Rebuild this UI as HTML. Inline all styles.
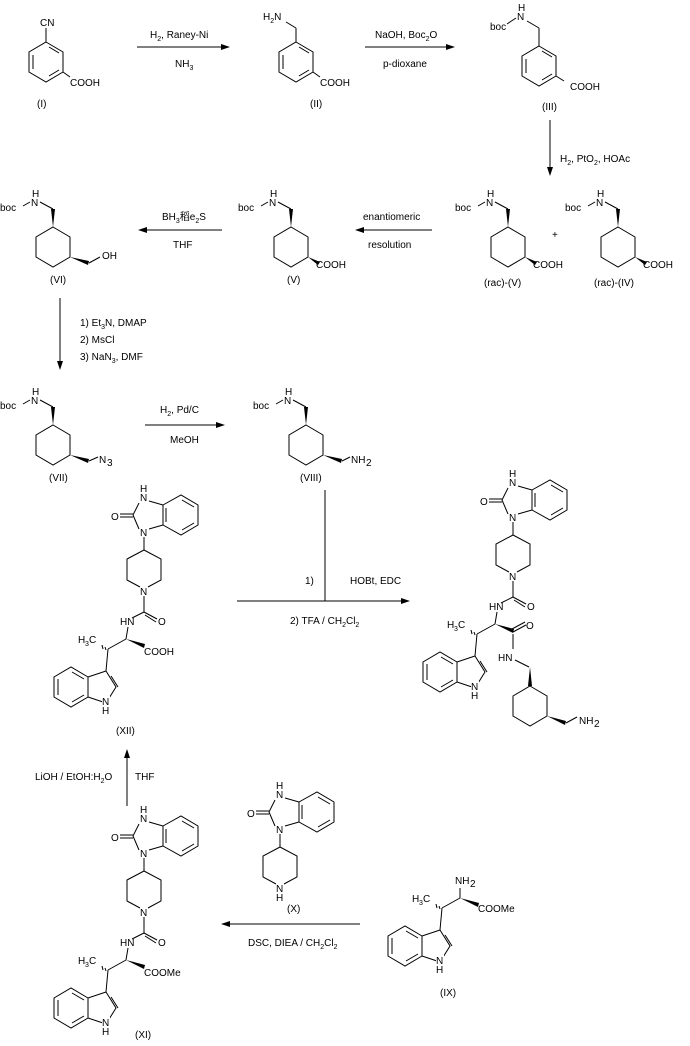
<!DOCTYPE html>
<html><head><meta charset="utf-8"><style>
body{margin:0;background:#fff}
svg{display:block}
text{font-family:"Liberation Sans",Arial,"Noto Sans CJK SC",sans-serif;font-size:10px;fill:#000}
line,polyline,polygon.r{stroke:#000;stroke-width:1;fill:none}
</style></head><body>
<svg width="690" height="1046" viewBox="0 0 690 1046" xmlns="http://www.w3.org/2000/svg">
<defs>
<g id="benz">
<polygon class="r" points="0,-20 17,-10 17,10 0,20 -17,10 -17,-10"/>
<line x1="3" y1="-15" x2="13" y2="-9"/><line x1="13" y1="8" x2="3" y2="14"/><line x1="-13" y1="-7" x2="-13" y2="7"/>
</g>
<g id="cyc">
<polygon class="r" points="0,-20 17,-10 17,10 0,20 -17,10 -17,-10"/>
<polygon points="0,-20 -2,-38 2,-38" fill="#000"/>
<line x1="0" y1="-38" x2="-13" y2="-45"/>
<text x="-22" y="-41">N</text><text x="-21" y="-50">H</text>
<line x1="-23" y1="-45" x2="-30" y2="-41"/>
<text x="-53" y="-36">boc</text>
</g>
<g id="bim">
<line x1="0" y1="-41" x2="0" y2="-54"/>
<text x="-4" y="-55">N</text>
<text x="-4" y="-90">N</text><text x="-4" y="-99">H</text>
<line x1="-5" y1="-62" x2="-11" y2="-76"/><line x1="-11" y1="-76" x2="-5" y2="-88"/>
<line x1="-11" y1="-77" x2="-24" y2="-77"/><line x1="-11" y1="-74" x2="-24" y2="-74"/>
<text x="-33" y="-71">O</text>
<line x1="5" y1="-62" x2="19" y2="-66"/><line x1="5" y1="-90" x2="19" y2="-86"/>
<polygon class="r" points="19,-86 37,-96 54,-86 54,-66 37,-56 19,-66"/>
<line x1="22" y1="-83" x2="22" y2="-69"/><line x1="38" y1="-91" x2="50" y2="-84"/><line x1="50" y1="-68" x2="38" y2="-61"/>
<polyline points="-4,-4 -17,-11 -17,-32 0,-41 17,-32 17,-11 4,-4"/>
</g>
<g id="trp">
<line x1="-18" y1="48" x2="-36" y2="58"/>
<g stroke="#000"><line x1="-39" y1="56" x2="-38" y2="59"/><line x1="-42" y1="54" x2="-41" y2="58"/></g>
<text x="-66" y="52">H</text><text x="-59" y="55" style="font-size:7px">3</text><text x="-55" y="52">C</text>
<line x1="-36" y1="58" x2="-38" y2="80"/>
<polygon class="r" points="-38,80 -28,96 -38,112 -56,106 -56,86"/>
<line x1="-33" y1="85" x2="-26" y2="96" />
<polygon class="r" points="-56,86 -73,76 -90,86 -90,106 -73,116 -56,106"/>
<line x1="-72" y1="81" x2="-60" y2="88"/><line x1="-86" y1="88" x2="-86" y2="104"/><line x1="-72" y1="111" x2="-60" y2="104"/>
<rect x="-42" y="105" width="8" height="9" fill="#fff"/>
<text x="-42" y="114">N</text><text x="-42" y="123">H</text>
</g>
<g id="core">
<text x="-4" y="4">N</text>
<use href="#bim"/>
<line x1="0" y1="5" x2="0" y2="21"/>
<line x1="0" y1="21" x2="13" y2="28"/><line x1="1" y1="24" x2="12" y2="31"/>
<text x="14" y="34">O</text>
<line x1="0" y1="21" x2="-12" y2="27"/>
<text x="-24" y="34">HN</text>
<line x1="-16" y1="36" x2="-18" y2="48"/>
<use href="#trp"/>
</g>
</defs>

<use href="#benz" x="46" y="62"/>
<line x1="46" y1="42" x2="46" y2="28"/><text x="40" y="26">CN</text>
<line x1="63" y1="72" x2="70" y2="77"/><text x="70" y="86">COOH</text>
<text x="37" y="107">(I)</text>
<line x1="137" y1="47" x2="224" y2="47"/><polygon points="230,47 221,44 221,50"/>
<text x="150" y="38">H<tspan font-size="7" dy="3">2</tspan><tspan dy="-3">, Raney-Ni</tspan></text>
<text x="175" y="67">NH<tspan font-size="7" dy="3">3</tspan></text>
<use href="#benz" x="296" y="62"/>
<line x1="296" y1="42" x2="296" y2="28"/><line x1="296" y1="28" x2="286" y2="22"/>
<text x="263" y="20">H<tspan font-size="7" dy="3">2</tspan><tspan dy="-3">N</tspan></text>
<line x1="313" y1="72" x2="320" y2="77"/><text x="320" y="86">COOH</text>
<text x="310" y="107">(II)</text>
<line x1="365" y1="47" x2="449" y2="47"/><polygon points="455,47 446,44 446,50"/>
<text x="375" y="38">NaOH, Boc<tspan font-size="7" dy="3">2</tspan><tspan dy="-3">O</tspan></text>
<text x="383" y="67">p-dioxane</text>
<use href="#benz" x="539" y="66"/>
<line x1="539" y1="46" x2="539" y2="28"/><line x1="539" y1="28" x2="527" y2="21"/>
<text x="517" y="20">N</text><text x="518" y="11">H</text>
<line x1="516" y1="18" x2="507" y2="24"/><text x="490" y="30">boc</text>
<line x1="556" y1="76" x2="564" y2="81"/><text x="570" y="90">COOH</text>
<text x="542" y="110">(III)</text>
<line x1="550" y1="120" x2="550" y2="170"/><polygon points="550,176 547,167 553,167"/>
<text x="560" y="162">H<tspan font-size="7" dy="3">2</tspan><tspan dy="-3">, PtO</tspan><tspan font-size="7" dy="3">2</tspan><tspan dy="-3">, HOAc</tspan></text>

<use href="#cyc" x="53" y="247"/>
<polygon points="70,257 88,265 89,261" fill="#000"/><line x1="89" y1="263" x2="100" y2="257"/><text x="102" y="259">OH</text>
<text x="50" y="283">(VI)</text>
<line x1="144" y1="230" x2="222" y2="230"/><polygon points="138,230 147,227 147,233"/>
<text x="162" y="220">BH<tspan font-size="7" dy="3">3</tspan><tspan dy="-3">稻e</tspan><tspan font-size="7" dy="3">2</tspan><tspan dy="-3">S</tspan></text>
<text x="173" y="248">THF</text>
<use href="#cyc" x="291" y="247"/>
<polygon points="308,257 318,265 320,262" fill="#000"/><text x="316" y="268">COOH</text>
<text x="287" y="283">(V)</text>
<line x1="361" y1="230" x2="432" y2="230"/><polygon points="355,230 364,227 364,233"/>
<text x="363" y="220">enantiomeric</text><text x="368" y="248">resolution</text>
<use href="#cyc" x="508" y="247"/>
<polygon points="525,257 535,265 537,262" fill="#000"/><text x="533" y="268">COOH</text>
<text x="484" y="286">(rac)-(V)</text>
<text x="552" y="238">+</text>
<use href="#cyc" x="618" y="247"/>
<polygon points="635,257 645,265 647,262" fill="#000"/><text x="643" y="268">COOH</text>
<text x="594" y="286">(rac)-(IV)</text>

<line x1="60" y1="298" x2="60" y2="364"/><polygon points="60,370 57,361 63,361"/>
<text x="80" y="326">1) Et<tspan font-size="7" dy="3">3</tspan><tspan dy="-3">N, DMAP</tspan></text>
<text x="80" y="343">2) MsCl</text>
<text x="80" y="360">3) NaN<tspan font-size="7" dy="3">3</tspan><tspan dy="-3">, DMF</tspan></text>

<use href="#cyc" x="53" y="445"/>
<polygon points="70,455 88,463 89,459" fill="#000"/><line x1="89" y1="461" x2="98" y2="457"/>
<text x="99" y="463">N</text><text x="107" y="466" font-size="7">3</text>
<text x="49" y="481">(VII)</text>
<line x1="145" y1="425" x2="219" y2="425"/><polygon points="225,425 216,422 216,428"/>
<text x="160" y="413">H<tspan font-size="7" dy="3">2</tspan><tspan dy="-3">, Pd/C</tspan></text>
<text x="170" y="443">MeOH</text>
<use href="#cyc" x="306" y="445"/>
<polygon points="323,455 341,463 342,459" fill="#000"/><line x1="342" y1="461" x2="350" y2="457"/>
<text x="351" y="463">NH</text><text x="366" y="466" font-size="7">2</text>
<text x="300" y="481">(VIII)</text>

<line x1="325" y1="490" x2="325" y2="601"/>
<line x1="237" y1="601" x2="403" y2="601"/><polygon points="410,601 401,598 401,604"/>
<text x="305" y="584">1)</text><text x="350" y="584">HOBt, EDC</text>
<text x="290" y="624">2) TFA / CH<tspan font-size="7" dy="3">2</tspan><tspan dy="-3">Cl</tspan><tspan font-size="7" dy="3">2</tspan></text>

<g transform="translate(513,576)">
<use href="#core"/>
<polygon points="-18,48 0,57 1,53" fill="#000"/>
<line x1="0" y1="56" x2="13" y2="49"/><line x1="-1" y1="53" x2="12" y2="46"/>
<text x="13" y="53">O</text>
<line x1="0" y1="58" x2="0" y2="73"/>
<text x="-15" y="85">HN</text>
<line x1="2" y1="84" x2="16" y2="91"/>
<polygon points="17,91 15,110 19,110" fill="#000"/>
<polygon class="r" points="17,110 34,120 34,140 17,150 0,140 0,120"/>
<polygon points="34,140 52,149 53,145" fill="#000"/><line x1="53" y1="147" x2="64" y2="141"/>
<text x="66" y="148">NH</text><text x="81" y="151" font-size="7">2</text>
</g>

<g transform="translate(144,591)">
<use href="#core"/>
<polygon points="-18,48 0,57 1,53" fill="#000"/>
<text x="0" y="64">COOH</text>
</g>
<text x="116" y="734">(XII)</text>
<line x1="127" y1="806" x2="127" y2="756"/><polygon points="127,749 124,758 130,758"/>
<text x="35" y="780">LiOH / EtOH:H<tspan font-size="7" dy="3">2</tspan><tspan dy="-3">O</tspan></text>
<text x="135" y="780">THF</text>

<g transform="translate(144,912)">
<use href="#core"/>
<polygon points="-18,48 0,57 1,53" fill="#000"/>
<text x="0" y="64">COOMe</text>
</g>
<text x="135" y="1038">(XI)</text>

<g transform="translate(280,888)">
<text x="-4" y="4">N</text><text x="-4" y="13">H</text>
<use href="#bim"/>
</g>
<text x="287" y="912">(X)</text>
<line x1="228" y1="924" x2="360" y2="924"/><polygon points="221,924 230,921 230,927"/>
<text x="248" y="946">DSC, DIEA / CH<tspan font-size="7" dy="3">2</tspan><tspan dy="-3">Cl</tspan><tspan font-size="7" dy="3">2</tspan></text>

<g transform="translate(478,850)">
<line x1="-18" y1="48" x2="-18" y2="38"/>
<text x="-23" y="34">NH</text><text x="-8" y="37" font-size="7">2</text>
<polygon points="-18,48 0,57 1,53" fill="#000"/>
<text x="0" y="62">COOMe</text>
<use href="#trp"/>
</g>
<text x="440" y="996">(IX)</text>
</svg>
</body></html>
